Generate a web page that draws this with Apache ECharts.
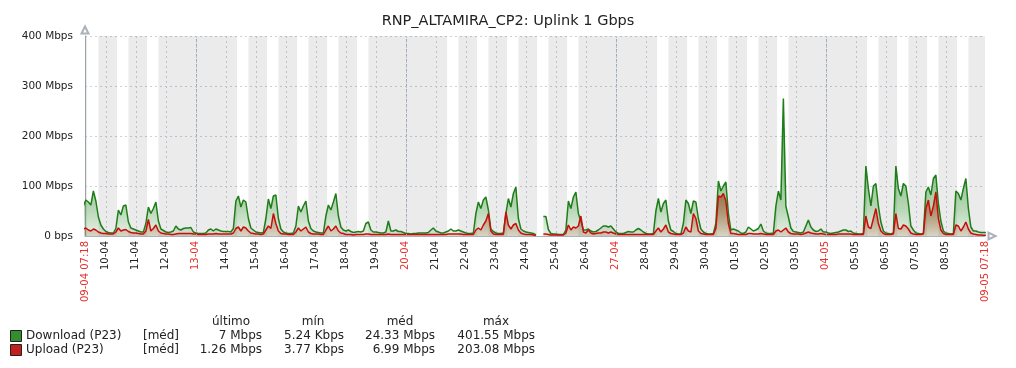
<!DOCTYPE html>
<html><head><meta charset="utf-8">
<script src="https://cdn.jsdelivr.net/npm/echarts@6/dist/echarts.min.js"></script>
<style>html,body{margin:0;padding:0;background:#fff}#c{width:1016px;height:368px}</style>
</head><body><div id="c"></div>
<script>
const FONT = '"DejaVu Sans", sans-serif';
const titleText = 'RNP_ALTAMIRA_CP2: Uplink 1 Gbps';
// x positions are hours since 09-04 00:00
const rangeStart = 7.3;    // 09-04 07:18
const rangeEnd = 727.3;    // 09-05 07:18
const sampleStart = 6;     // first sample 09-04 06:00
const sampleStep = 2;      // hours between samples

// Download (P23) average, Mbps — one line per day
const download = [
  60, 72, 68, 62, 90, 70, 38, 22, 14,                 // 09-04 (06..22h)
  9, 7, 6, 6, 15, 52, 42, 60, 62, 28, 16, 14,          // 10-04
  12, 10, 8, 8, 25, 58, 45, 55, 68, 30, 14, 11,        // 11-04
  8, 7, 8, 10, 20, 14, 12, 15, 16, 16, 17, 8,          // 12-04
  6, 5, 5, 5, 6, 12, 14, 10, 14, 12, 10, 9,            // 13-04
  9, 9, 8, 15, 70, 80, 58, 72, 68, 35, 16, 12,         // 14-04
  8, 7, 6, 7, 35, 74, 55, 80, 82, 35, 14, 8,           // 15-04
  6, 5, 5, 6, 20, 60, 48, 60, 70, 30, 15, 10,          // 16-04
  8, 7, 6, 6, 40, 62, 52, 68, 85, 40, 18, 12,          // 17-04
  10, 12, 9, 7, 8, 9, 8, 10, 25, 28, 12, 8,            // 18-04
  8, 7, 6, 6, 8, 30, 10, 10, 12, 9, 9, 7,              // 19-04
  5, 5, 4, 5, 5, 6, 6, 6, 6, 7, 12, 16,                // 20-04
  10, 8, 6, 6, 8, 10, 14, 10, 10, 12, 10, 8,           // 21-04
  6, 5, 5, 6, 45, 68, 55, 72, 78, 52, 14, 9,           // 22-04
  6, 5, 5, 6, 45, 75, 58, 85, 98, 35, 14, 10,          // 23-04
  8, 7, 6, 5, 2, null, null, 39, 39, 13, 5, 4,         // 24-04
  4, 3, 3, 3, 12, 70, 55, 78, 88, 45, 30, 12,          // 25-04
  12, 14, 10, 8, 9, 12, 16, 20, 20, 18, 20, 14,        // 26-04
  8, 5, 5, 5, 7, 9, 8, 8, 12, 15, 12, 8,               // 27-04
  5, 4, 4, 5, 50, 75, 48, 65, 72, 30, 12, 9,           // 28-04
  5, 4, 4, 25, 72, 65, 45, 70, 68, 35, 14, 8,          // 29-04
  5, 4, 4, 5, 25, 110, 90, 100, 108, 45, 12, 14,       // 30-04
  12, 10, 6, 5, 8, 18, 14, 10, 12, 15, 24, 10,         // 01-05
  6, 5, 5, 6, 60, 90, 72, 275, 60, 38, 16, 9,          // 02-05
  8, 7, 6, 8, 20, 32, 18, 12, 9, 10, 14, 8,            // 03-05
  8, 6, 5, 6, 7, 8, 10, 12, 12, 9, 10, 6,              // 04-05
  5, 4, 4, 5, 140, 95, 60, 100, 105, 60, 28, 10,       // 05-05
  6, 5, 4, 6, 140, 95, 80, 105, 100, 65, 20, 12,       // 06-05
  6, 5, 4, 5, 88, 98, 82, 115, 122, 65, 30, 10,        // 07-05
  6, 5, 4, 5, 90, 85, 72, 95, 115, 55, 18, 10,         // 08-05
  10, 8, 7, 7, 7                                       // 09-05 (00..08h)
];

// Upload (P23) average, Mbps
const upload = [
  14, 16, 12, 10, 14, 12, 8, 6, 5,
  5, 4, 4, 4, 8, 16, 10, 12, 13, 9, 7, 6,
  6, 5, 4, 4, 10, 33, 10, 15, 22, 10, 6, 5,
  4, 4, 3, 3, 4, 5, 5, 5, 5, 5, 5, 4,
  4, 3, 3, 3, 3, 4, 4, 4, 5, 4, 4, 4,
  4, 4, 4, 6, 15, 18, 10, 18, 16, 10, 6, 5,
  4, 4, 3, 4, 12, 20, 15, 45, 25, 10, 5, 4,
  4, 3, 3, 3, 8, 16, 10, 14, 18, 8, 5, 4,
  4, 4, 3, 3, 12, 20, 10, 14, 20, 10, 6, 5,
  3, 3, 3, 2, 3, 3, 3, 3, 4, 4, 3, 3,
  3, 3, 3, 3, 3, 4, 3, 3, 3, 3, 3, 3,
  3, 3, 3, 3, 3, 3, 3, 3, 3, 3, 3, 3,
  3, 3, 3, 3, 3, 4, 4, 4, 4, 4, 4, 3,
  3, 3, 3, 3, 12, 16, 12, 22, 30, 45, 10, 4,
  3, 3, 3, 3, 48, 22, 14, 22, 25, 12, 6, 4,
  3, 3, 3, 2, 1, null, null, 4, 4, 3, 2, 2,
  2, 2, 2, 2, 6, 22, 12, 18, 16, 20, 40, 8,
  6, 12, 6, 4, 5, 6, 6, 8, 8, 6, 8, 6,
  4, 3, 3, 3, 3, 3, 3, 3, 3, 3, 3, 3,
  3, 3, 3, 3, 10, 16, 8, 14, 22, 8, 5, 4,
  3, 3, 3, 6, 18, 10, 8, 45, 35, 10, 5, 4,
  3, 3, 3, 3, 15, 80, 78, 85, 70, 25, 5, 5,
  4, 3, 3, 3, 3, 5, 5, 4, 4, 4, 5, 4,
  3, 3, 3, 3, 10, 12, 8, 12, 16, 8, 5, 4,
  4, 4, 3, 4, 6, 8, 6, 5, 4, 4, 5, 4,
  3, 3, 3, 3, 3, 4, 4, 4, 4, 4, 4, 3,
  3, 3, 3, 3, 40, 18, 15, 35, 55, 25, 10, 5,
  3, 3, 3, 4, 45, 15, 14, 22, 20, 14, 6, 4,
  3, 3, 3, 4, 55, 72, 40, 60, 88, 35, 12, 5,
  3, 3, 3, 3, 22, 20, 10, 18, 28, 14, 6, 4,
  3, 2, 2, 1.3, 1.3
];

const yTicks = [0, 100, 200, 300, 400];
const yTickLabels = ['0 bps', '100 Mbps', '200 Mbps', '300 Mbps', '400 Mbps'];
const edgeLabels = ['09-04 07:18', '09-05 07:18'];
const dayLabels = ['10-04','11-04','12-04','13-04','14-04','15-04','16-04','17-04','18-04','19-04',
  '20-04','21-04','22-04','23-04','24-04','25-04','26-04','27-04','28-04','29-04','30-04',
  '01-05','02-05','03-05','04-05','05-05','06-05','07-05','08-05'];
const redDayLabels = ['13-04', '20-04', '27-04', '04-05'];
const firstWeekday = 3;           // 09-04 is a Wednesday
const workStart = 9, workEnd = 18; // working period Mon-Fri 09:00-18:00

const legendHeaders = ['último', 'mín', 'méd', 'máx'];
const legendNames = ['Download (P23)', 'Upload (P23)'];
const legendFunc = ['[méd]', '[méd]'];
const legendLast = ['7 Mbps', '1.26 Mbps'];
const legendMin = ['5.24 Kbps', '3.77 Kbps'];
const legendAvg = ['24.33 Mbps', '6.99 Mbps'];
const legendMax = ['401.55 Mbps', '203.08 Mbps'];

// ---- build ----
const dayHours = dayLabels.map((_, i) => 24 * (i + 1));
const labelHours = [rangeStart].concat(dayHours, [rangeEnd]);
const sundayHours = redDayLabels.map(l => dayHours[dayLabels.indexOf(l)]);

function labelFor(v) {
  if (Math.abs(v - rangeStart) < 0.01) return '{red|' + edgeLabels[0] + '}';
  if (Math.abs(v - rangeEnd) < 0.01) return '{red|' + edgeLabels[1] + '}';
  const i = dayHours.findIndex(h => Math.abs(h - v) < 0.01);
  if (i < 0) return '';
  const l = dayLabels[i];
  return redDayLabels.indexOf(l) >= 0 ? '{red|' + l + '}' : l;
}

const bands = [];
let cursor = rangeStart;
for (let d = 0; d <= 31; d++) {
  const dow = (firstWeekday + d) % 7;
  if (dow === 0 || dow === 6) continue;
  const ws = 24 * d + workStart, we = 24 * d + workEnd;
  if (we <= rangeStart || ws >= rangeEnd) continue;
  if (ws > cursor) bands.push([cursor, Math.min(ws, rangeEnd)]);
  cursor = Math.max(cursor, we);
}
if (cursor < rangeEnd) bands.push([cursor, rangeEnd]);

const dlData = download.map((v, i) => [sampleStart + i * sampleStep, v]);
const ulData = upload.map((v, i) => [sampleStart + i * sampleStep, v]);

const chart = echarts.init(document.getElementById('c'), null, { renderer: 'canvas' });

const grad = (rgb, stops) => new echarts.graphic.LinearGradient(0, 0, 0, 1,
  stops.map(s => ({ offset: s[0], color: 'rgba(' + rgb + ',' + s[1] + ')' })));

const gridLine = { type: [2, 3], color: '#c9d3dc', width: 1 };
const axisCol = '#a9b1b9';

const graphics = [];
const headerX = [231, 313, 400, 496];
legendHeaders.forEach((h, j) => graphics.push({
  type: 'text', x: headerX[j], y: 322,
  style: { text: h, font: '12px ' + FONT, fill: '#222', align: 'center', verticalAlign: 'middle' }
}));
const squareCol = ['#348c2c', '#c41f1f'];
const colRight = [262, 344, 435, 535];
legendNames.forEach((n, r) => {
  const y = 336 + r * 14;
  graphics.push({ type: 'rect', shape: { x: 10.5, y: y - 5.5, width: 11, height: 11 },
    style: { fill: squareCol[r], stroke: '#222', lineWidth: 1 } });
  graphics.push({ type: 'text', x: 26, y: y,
    style: { text: n, font: '12px ' + FONT, fill: '#222', align: 'left', verticalAlign: 'middle' } });
  graphics.push({ type: 'text', x: 143, y: y,
    style: { text: legendFunc[r], font: '12px ' + FONT, fill: '#222', align: 'left', verticalAlign: 'middle' } });
  [legendLast, legendMin, legendAvg, legendMax].forEach((arr, j) => graphics.push({
    type: 'text', x: colRight[j], y: y,
    style: { text: arr[r], font: '12px ' + FONT, fill: '#222', align: 'right', verticalAlign: 'middle' }
  }));
});

chart.setOption({
  animation: false,
  backgroundColor: '#fff',
  textStyle: { fontFamily: FONT },
  title: { text: titleText, left: 'center', top: 9,
    textStyle: { fontSize: 14.5, fontWeight: 'normal', color: '#222', fontFamily: FONT } },
  grid: { left: 85, right: 31, top: 36, bottom: 132, containLabel: false },
  xAxis: {
    type: 'value', min: rangeStart, max: rangeEnd,
    axisLine: { show: true, lineStyle: { color: axisCol, width: 1 },
      symbol: ['none', 'emptyTriangle'], symbolSize: [7, 7], symbolOffset: [0, 7] },
    axisTick: { show: false, customValues: dayHours },
    splitLine: { show: true, lineStyle: gridLine },
    axisLabel: {
      customValues: labelHours, rotate: 90, margin: 5, fontSize: 10, color: '#222', fontFamily: FONT,
      formatter: labelFor,
      rich: { red: { color: '#e5312c', fontSize: 10, fontFamily: FONT } }
    }
  },
  yAxis: {
    type: 'value', min: 0, max: 400, interval: 100,
    axisLine: { show: true, lineStyle: { color: axisCol, width: 1 },
      symbol: ['none', 'emptyTriangle'], symbolSize: [7, 7], symbolOffset: [0, 6] },
    axisTick: { show: false },
    splitLine: { show: true, lineStyle: gridLine },
    axisLabel: { margin: 12, fontSize: 10.5, color: '#222', fontFamily: FONT,
      formatter: v => yTickLabels[yTicks.indexOf(v)] }
  },
  graphic: graphics,
  series: [
    {
      name: legendNames[0], type: 'line', data: dlData, showSymbol: false, connectNulls: false,
      lineStyle: { color: '#1d7d18', width: 1.5 },
      itemStyle: { color: '#1d7d18' },
      areaStyle: { color: grad('40,135,35', [[0, 0.95], [0.55, 0.72], [0.8, 0.48], [1, 0.16]]) },
      z: 3,
      markArea: { silent: true, itemStyle: { color: 'rgba(0,0,0,0.08)' },
        data: bands.map(b => [{ xAxis: b[0] }, { xAxis: b[1] }]) },
      markLine: { silent: true, symbol: 'none', label: { show: false },
        lineStyle: { type: [2, 3], color: '#98a8b6', width: 1 },
        data: sundayHours.map(h => ({ xAxis: h })) }
    },
    {
      name: legendNames[1], type: 'line', data: ulData, showSymbol: false, connectNulls: false,
      lineStyle: { color: '#cc0c0c', width: 1.5 },
      itemStyle: { color: '#cc0c0c' },
      areaStyle: { color: grad('150,50,10', [[0, 0.85], [0.5, 0.55], [1, 0.22]]) },
      z: 4
    }
  ]
});
</script></body></html>
